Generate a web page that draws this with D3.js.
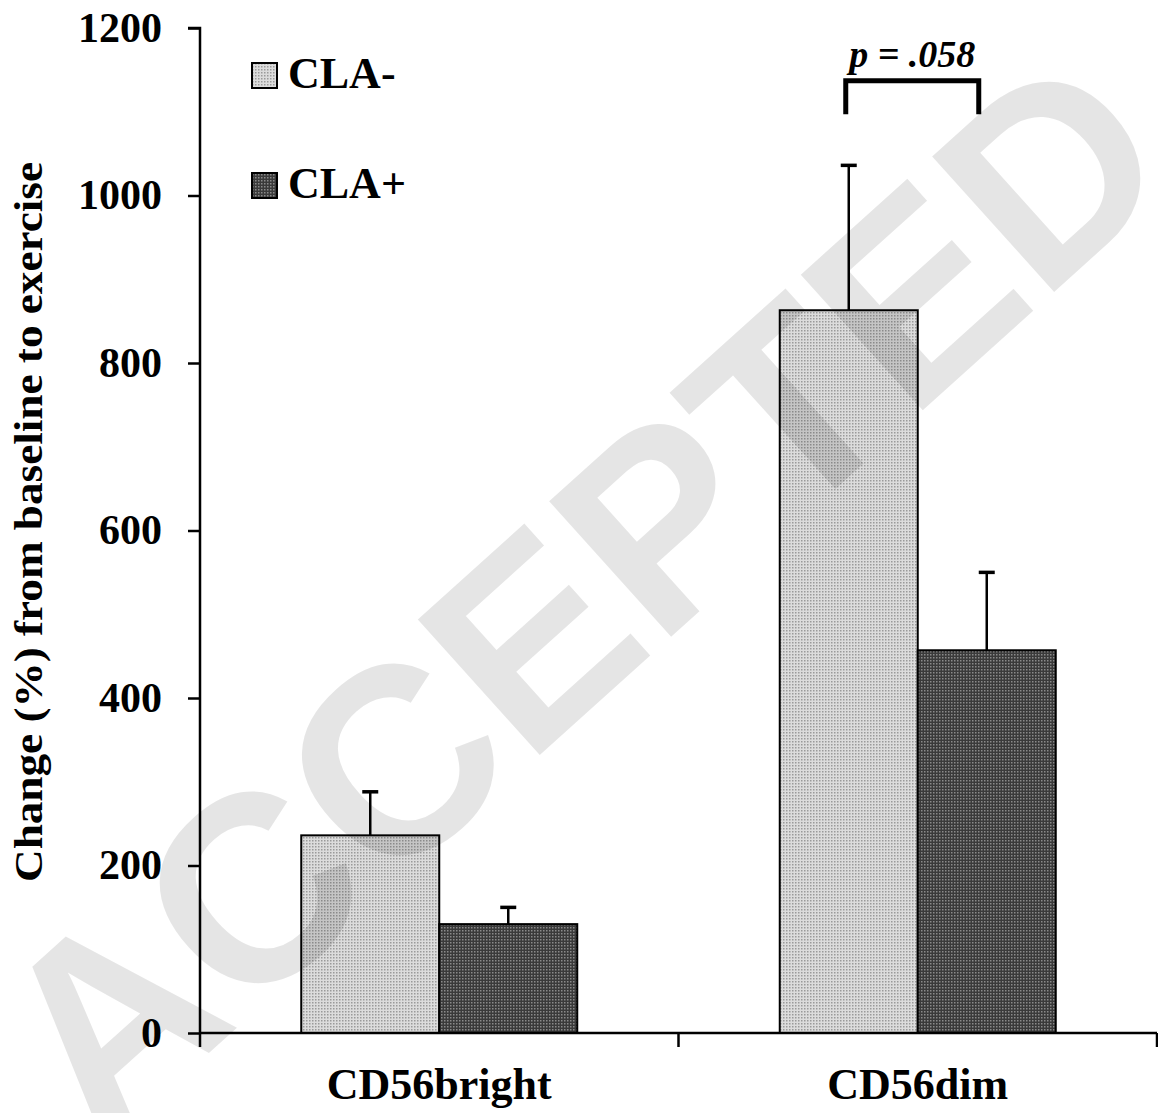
<!DOCTYPE html>
<html>
<head>
<meta charset="utf-8">
<script src="https://cdn.jsdelivr.net/npm/d3@7.9.0/dist/d3.min.js"></script>
<style>
  html, body { margin: 0; padding: 0; background: #fff; }
  svg { display: block; }
  text { font-family: "Liberation Serif", "Times New Roman", serif; font-weight: bold; fill: #000; }
</style>
</head>
<body>
<svg id="chart" width="1158" height="1113"></svg>
<script>
const categories = ['CD56bright', 'CD56dim'];
const series = ['CLA-', 'CLA+'];
const claMinus = [236, 863];
const claPlus = [130, 457];
const claMinusErr = [52, 173];
const claPlusErr = [20, 93];
const yTicks = [0, 200, 400, 600, 800, 1000, 1200];
const pLabel = 'p = .058';
const bracket = [1097, 1137]; // low / high end of the significance bracket

const svg = d3.select('#chart');

// patterns for the two fills
const defs = svg.append('defs');
const light = defs.append('pattern').attr('id', 'lightFill')
    .attr('width', 3).attr('height', 3).attr('patternUnits', 'userSpaceOnUse');
light.append('rect').attr('width', 3).attr('height', 3).attr('fill', '#dcdcdc');
light.append('rect').attr('width', 1.5).attr('height', 1.5).attr('fill', '#9a9a9a');
const dark = defs.append('pattern').attr('id', 'darkFill')
    .attr('width', 3).attr('height', 3).attr('patternUnits', 'userSpaceOnUse');
dark.append('rect').attr('width', 3).attr('height', 3).attr('fill', '#3a3a3a');
dark.append('rect').attr('width', 1.5).attr('height', 1.5).attr('fill', '#8a8a8a');
const fills = { 'CLA-': 'url(#lightFill)', 'CLA+': 'url(#darkFill)' };

const x = d3.scaleBand().domain(categories).range([200, 1157]);
const bw = x.bandwidth();
const barW = 138;
const xSub = d3.scaleBand().domain(series).range([bw / 2 - barW, bw / 2 + barW]);
const y = d3.scaleLinear().domain([0, 1200]).range([1033, 28]);

const rows = categories.map((c, i) => ({
    cat: c,
    vals: [
        { s: 'CLA-', v: claMinus[i], e: claMinusErr[i] },
        { s: 'CLA+', v: claPlus[i], e: claPlusErr[i] },
    ],
}));

// error bars (drawn first so bar outline sits on top)
const g = svg.append('g');
rows.forEach((r) => {
    r.vals.forEach((d) => {
        const cx = x(r.cat) + xSub(d.s) + xSub.bandwidth() / 2;
        g.append('line')
            .attr('x1', cx).attr('x2', cx)
            .attr('y1', y(d.v)).attr('y2', y(d.v + d.e))
            .attr('stroke', '#000').attr('stroke-width', 2.5);
        g.append('line')
            .attr('x1', cx - 8).attr('x2', cx + 8)
            .attr('y1', y(d.v + d.e)).attr('y2', y(d.v + d.e))
            .attr('stroke', '#000').attr('stroke-width', 3.5);
    });
});

rows.forEach((r) => {
    g.selectAll(null).data(r.vals).enter().append('rect')
        .attr('x', (d) => x(r.cat) + xSub(d.s))
        .attr('y', (d) => y(d.v))
        .attr('width', xSub.bandwidth())
        .attr('height', (d) => y(0) - y(d.v))
        .attr('fill', (d) => fills[d.s])
        .attr('stroke', '#000').attr('stroke-width', 2);
});

// y axis
const yAxis = svg.append('g').attr('transform', 'translate(200,0)')
    .call(d3.axisLeft(y).tickValues(yTicks).tickSize(12).tickPadding(26).tickFormat(d3.format('d')));
yAxis.select('.domain').attr('stroke-width', 2.5).attr('d', `M-12,${y(1200)}H0V${y(0)}`);
yAxis.selectAll('.tick line').attr('stroke-width', 2.5);
yAxis.selectAll('.tick text').style('font-size', '42px')
    .style('font-family', '"Liberation Serif", serif').style('font-weight', 'bold');

// x axis
const xTickPos = [200, 200 + bw, 1157];
const xAxisG = svg.append('g');
xAxisG.append('line').attr('x1', 200).attr('x2', 1157).attr('y1', y(0)).attr('y2', y(0))
    .attr('stroke', '#000').attr('stroke-width', 2.5);
xAxisG.selectAll(null).data(xTickPos).enter().append('line')
    .attr('x1', (d) => d).attr('x2', (d) => d)
    .attr('y1', y(0)).attr('y2', y(0) + 14)
    .attr('stroke', '#000').attr('stroke-width', 2.5);
xAxisG.selectAll(null).data(categories).enter().append('text')
    .attr('x', (d) => x(d) + bw / 2).attr('y', 1099)
    .attr('text-anchor', 'middle').style('font-size', '44px')
    .text((d) => d);

// y title
svg.append('text')
    .attr('transform', 'translate(42,522) rotate(-90)')
    .attr('text-anchor', 'middle')
    .attr('textLength', 720).attr('lengthAdjust', 'spacingAndGlyphs')
    .style('font-size', '40px')
    .text('Change (%) from baseline to exercise');

// legend
const legend = svg.append('g');
series.forEach((s, i) => {
    const ly = 63 + i * 110;
    legend.append('rect').attr('x', 252).attr('y', ly).attr('width', 25).attr('height', 25)
        .attr('fill', fills[s]).attr('stroke', '#000').attr('stroke-width', 2);
    legend.append('text').attr('x', 288).attr('y', ly + 25).style('font-size', '44px').text(s);
});

// significance bracket
const bx1 = x('CD56dim') + xSub('CLA-') + xSub.bandwidth() / 2 - 3;
const bx2 = x('CD56dim') + xSub('CLA+') + xSub.bandwidth() / 2 - 8;
svg.append('path')
    .attr('d', `M${bx1},${y(bracket[0])}V${y(bracket[1])}H${bx2}V${y(bracket[0])}`)
    .attr('fill', 'none').attr('stroke', '#000').attr('stroke-width', 5);
svg.append('text').attr('x', (bx1 + bx2) / 2).attr('y', 67)
    .attr('text-anchor', 'middle')
    .style('font-size', '38px').style('font-style', 'italic')
    .text(pLabel);

// watermark
svg.append('text')
    .attr('transform', 'translate(580,595) rotate(-42)')
    .attr('text-anchor', 'middle').attr('dominant-baseline', 'central')
    .style('font-family', '"Liberation Sans", Arial, sans-serif')
    .style('font-size', '265px').style('font-weight', 'bold')
    .style('fill', '#000').style('fill-opacity', 0.1)
    .style('pointer-events', 'none')
    .text('ACCEPTED');
</script>
</body>
</html>
